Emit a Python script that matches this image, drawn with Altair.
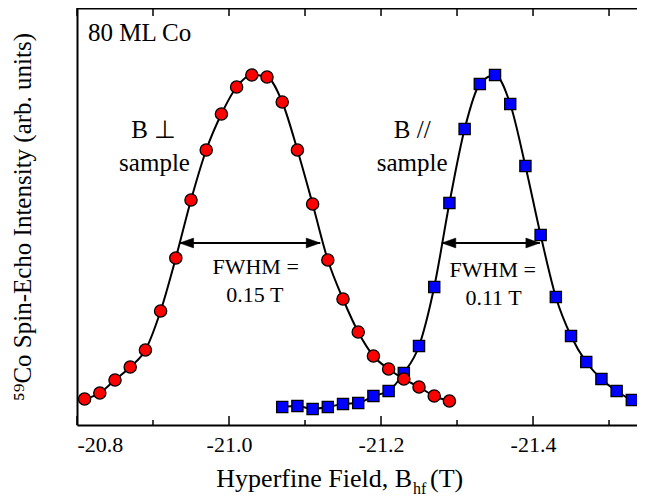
import altair as alt
import pandas as pd

# ---------------- data ----------------
red_field = [-20.81, -20.83, -20.85, -20.87, -20.89, -20.91, -20.93, -20.95, -20.97,
             -20.99, -21.01, -21.03, -21.05, -21.07, -21.09, -21.11, -21.13, -21.15,
             -21.17, -21.19, -21.21, -21.23, -21.25, -21.27, -21.29]
red_int = [0.26, 0.32, 0.45, 0.58, 0.75, 1.14, 1.67, 2.25, 2.75, 3.11, 3.38, 3.50, 3.48,
           3.23, 2.75, 2.21, 1.65, 1.26, 0.93, 0.69, 0.56, 0.46, 0.38, 0.29, 0.24]

blue_field = [-21.07, -21.09, -21.11, -21.13, -21.15, -21.17, -21.19, -21.21, -21.23,
              -21.25, -21.27, -21.29, -21.31, -21.33, -21.35, -21.37, -21.39, -21.41,
              -21.43, -21.45, -21.47, -21.49, -21.51, -21.53, -21.55]
blue_int = [0.18, 0.19, 0.16, 0.18, 0.21, 0.22, 0.29, 0.34, 0.52, 0.79, 1.38, 2.22, 2.96,
            3.41, 3.50, 3.21, 2.59, 1.90, 1.28, 0.89, 0.63, 0.46, 0.34, 0.25, 0.22]

major_ticks = [-20.8, -21.0, -21.2, -21.4]
minor_ticks = [-20.9, -21.1, -21.3, -21.5]

# FWHM arrows: [left end, right end, level]
red_arrow = [-20.935, -21.120, 1.82]
blue_arrow = [-21.280, -21.409, 1.82]

# annotation texts: (text, field, intensity, size, align)
labels = [
    ("80 ML Co", -20.8145, 3.92, 25, "left"),
    ("B \u22a5", -20.901, 2.95, 25, "center"),
    ("sample", -20.902, 2.62, 25, "center"),
    ("B //", -21.241, 2.95, 25, "center"),
    ("sample", -21.241, 2.62, 25, "center"),
    ("FWHM =", -21.035, 1.58, 22, "center"),
    ("0.15 T", -21.034, 1.30, 22, "center"),
    ("FWHM =", -21.347, 1.55, 22, "center"),
    ("0.11 T", -21.348, 1.27, 22, "center"),
]

x_domain = [-21.5368, -20.8]
y_domain = [0, 4.17]
FONT = "Liberation Serif"
W, H = 560, 417

red_df = pd.DataFrame({"field": red_field, "intensity": red_int})
blue_df = pd.DataFrame({"field": blue_field, "intensity": blue_int})
major_df = pd.DataFrame({"field": major_ticks})
minor_df = pd.DataFrame({"field": minor_ticks})
arrow_df = pd.DataFrame({
    "field": [red_arrow[0], blue_arrow[0]],
    "x2": [red_arrow[1], blue_arrow[1]],
    "intensity": [red_arrow[2], blue_arrow[2]],
})
heads_df = pd.DataFrame({
    "field": [red_arrow[0], red_arrow[1], blue_arrow[0], blue_arrow[1]],
    "intensity": [red_arrow[2], red_arrow[2], blue_arrow[2], blue_arrow[2]],
    "dir": ["left", "right", "left", "right"],
})
text_df = pd.DataFrame(labels, columns=["text", "field", "intensity", "size", "align"])

xscale = alt.Scale(domain=x_domain, reverse=True, nice=False, zero=False)
yscale = alt.Scale(domain=y_domain, nice=False, zero=False)

x_axis = alt.Axis(values=major_ticks, ticks=False, grid=False, domain=True,
                  domainColor="black", domainWidth=2,
                  labelExpr="'-' + format(abs(datum.value), '.1f')",
                  labelFont=FONT, labelFontSize=22, labelColor="black",
                  labelPadding=9, title=None)
y_axis = alt.Axis(labels=False, ticks=False, grid=False, domain=True,
                  domainColor="black", domainWidth=2,
                  title="\u2075\u2079Co Spin-Echo Intensity (arb. units)",
                  titleFont=FONT, titleFontSize=25, titleFontWeight="normal",
                  titleColor="black", titlePadding=42, titleLimit=1000)

X = alt.X("field:Q", scale=xscale, axis=x_axis, title=None)
Y = alt.Y("intensity:Q", scale=yscale, axis=y_axis)

line_blue = alt.Chart(blue_df).mark_line(color="black", strokeWidth=2, interpolate="monotone",
                                         clip=True).encode(x=X, y=Y)
pts_blue = alt.Chart(blue_df).mark_point(shape="square", filled=True, fill="#0000ff", stroke="black",
                                         strokeWidth=1.3, size=125, opacity=1).encode(x=X, y=Y)
line_red = alt.Chart(red_df).mark_line(color="black", strokeWidth=2, interpolate="monotone").encode(x=X, y=Y)
pts_red = alt.Chart(red_df).mark_point(shape="circle", filled=True, fill="#ff0000", stroke="black",
                                       strokeWidth=1.3, size=150, opacity=1).encode(x=X, y=Y)

shafts = alt.Chart(arrow_df).mark_rule(color="black", strokeWidth=2).encode(
    x=X, x2="x2:Q", y=Y)
heads = alt.Chart(heads_df).mark_point(filled=True, fill="black", stroke="black", strokeWidth=0.5,
                                       size=196, opacity=1).encode(
    x=X, y=Y,
    shape=alt.Shape("dir:N", scale=alt.Scale(domain=["left", "right"],
                                             range=["M0,0L2,-0.7L2,0.7Z", "M0,0L-2,-0.7L-2,0.7Z"]),
                    legend=None))

texts = []
for align in ["left", "center"]:
    for size in [25, 22]:
        sub = text_df[(text_df["align"] == align) & (text_df["size"] == size)]
        if len(sub) == 0:
            continue
        texts.append(alt.Chart(sub).mark_text(font=FONT, fontSize=size, align=align,
                                              baseline="middle", color="black").encode(
            x=X, y=Y, text="text:N"))

tick_major_bot = alt.Chart(major_df).mark_rule(color="black", strokeWidth=1.5).encode(
    x=X, y=alt.value(H), y2=alt.value(H - 9))
tick_minor_bot = alt.Chart(minor_df).mark_rule(color="black", strokeWidth=1.5).encode(
    x=X, y=alt.value(H), y2=alt.value(H - 5))
all_ticks = pd.concat([major_df, minor_df])
tick_top = alt.Chart(all_ticks).mark_rule(color="black", strokeWidth=1.5).encode(
    x=X, y=alt.value(0), y2=alt.value(8))

# top frame line
frame_top = alt.Chart(pd.DataFrame({"k": [0]})).mark_rule(color="black", strokeWidth=3).encode(
    x=alt.value(0), x2=alt.value(W), y=alt.value(0))

# x-axis title with subscript
title_main = alt.Chart(pd.DataFrame({"t": ["Hyperfine Field, B"]})).mark_text(
    font=FONT, fontSize=26, align="right", baseline="alphabetic", color="black").encode(
    x=alt.value(335), y=alt.value(479), text="t:N")
title_sub = alt.Chart(pd.DataFrame({"t": ["hf"]})).mark_text(
    font=FONT, fontSize=16, align="left", baseline="alphabetic", color="black").encode(
    x=alt.value(336), y=alt.value(486), text="t:N")
title_unit = alt.Chart(pd.DataFrame({"t": ["(T)"]})).mark_text(
    font=FONT, fontSize=26, align="left", baseline="alphabetic", color="black").encode(
    x=alt.value(353), y=alt.value(479), text="t:N")

chart = alt.layer(
    line_blue, pts_blue, line_red, pts_red, shafts, heads, *texts,
    tick_major_bot, tick_minor_bot, tick_top, frame_top, title_main, title_sub, title_unit
).properties(
    width=W, height=H,
    autosize=alt.AutoSizeParams(type="none"),
    padding={"left": 69, "top": 0, "right": 0, "bottom": 72},
).configure_view(stroke=None)

chart.save("out.html", embed_options={"renderer": "svg", "actions": False})
